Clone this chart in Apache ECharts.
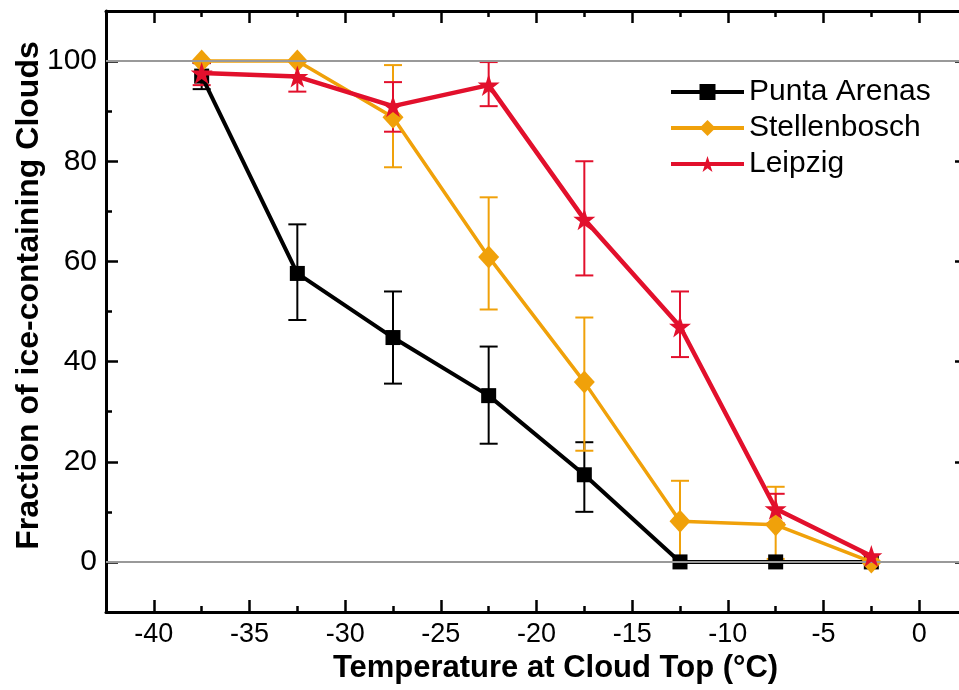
<!DOCTYPE html>
<html>
<head>
<meta charset="utf-8">
<script src="https://cdn.jsdelivr.net/npm/echarts@6/dist/echarts.min.js"></script>
<style>
  html, body { margin: 0; padding: 0; background: #fff; }
  #main { width: 959px; height: 690px; }
</style>
</head>
<body>
<div id="main"></div>
<script>
// temperature bins (cloud top, °C)
var temps = [-37.5, -32.5, -27.5, -22.5, -17.5, -12.5, -7.5, -2.5];

// fraction of ice-containing clouds (%), with error bar limits
var puntaVals = [97, 57.6, 44.8, 33.2, 17.4, 0, 0, 0];
var puntaLow  = [94.4, 48.3, 35.6, 23.6, 10, null, null, null];
var puntaHigh = [99.6, 67.4, 54, 43, 23.9, null, null, null];

var stellVals = [100, 100, 88.8, 60.9, 35.9, 8.1, 7.4, 0];
var stellLow  = [null, null, 78.8, 50.4, 22.2, 0, 0.6, null];
var stellHigh = [null, null, 99.2, 72.8, 48.8, 16.2, 15, null];

var leipVals = [97.6, 96.9, 91, 95.2, 68.4, 47, 10.6, 1.2];
var leipLow  = [95.2, 93.9, 85.9, 91, 57.2, 40.9, 7.7, null];
var leipHigh = [99.6, 100, 95.8, 99.8, 80, 54, 13.6, null];

var xMajor = [-40, -35, -30, -25, -20, -15, -10, -5, 0];
var xMinor = [-37.5, -32.5, -27.5, -22.5, -17.5, -12.5, -7.5, -2.5];
var yMajor = [0, 20, 40, 60, 80, 100];
var yMinor = [10, 30, 50, 70, 90];

var FONT = 'Liberation Sans, Arial, sans-serif';
var BLACK = '#000000', ORANGE = '#f0a10a', RED = '#e2102c';

function pts(vals) {
  return temps.map(function (t, i) { return [t, vals[i]]; });
}
function errs(low, high) {
  var out = [];
  temps.forEach(function (t, i) {
    if (low[i] != null) out.push([t, low[i], high[i]]);
  });
  return out;
}

function errSeries(name, color, data) {
  return {
    name: name,
    type: 'custom',
    data: data,
    z: 1,
    silent: true,
    renderItem: function (params, api) {
      var x = api.value(0);
      var pLo = api.coord([x, api.value(1)]);
      var pHi = api.coord([x, api.value(2)]);
      var w = 9;
      var st = { stroke: color, lineWidth: 2 };
      return {
        type: 'group',
        children: [
          { type: 'line', shape: { x1: pLo[0], y1: pLo[1], x2: pHi[0], y2: pHi[1] }, style: st },
          { type: 'line', shape: { x1: pLo[0] - w, y1: pLo[1], x2: pLo[0] + w, y2: pLo[1] }, style: st },
          { type: 'line', shape: { x1: pHi[0] - w, y1: pHi[1], x2: pHi[0] + w, y2: pHi[1] }, style: st }
        ]
      };
    }
  };
}

function xAx(pos, ticks, len, showLabel, showLine) {
  return {
    type: 'value', position: pos, min: -42.5, max: 2.5,
    axisLine: { show: showLine, onZero: false, lineStyle: { color: BLACK, width: 3 } },
    axisTick: { show: true, inside: true, length: len, customValues: ticks,
      lineStyle: { color: BLACK, width: 2.5 } },
    axisLabel: { show: showLabel, customValues: ticks, fontSize: 27, color: BLACK,
      fontFamily: FONT, margin: 9 },
    splitLine: { show: false }
  };
}
function yAx(pos, ticks, len, showLabel, showLine) {
  return {
    type: 'value', position: pos, min: -10, max: 110,
    axisLine: { show: showLine, onZero: false, lineStyle: { color: BLACK, width: 3 } },
    axisTick: { show: true, inside: true, length: len, customValues: ticks,
      lineStyle: { color: BLACK, width: 2.5 } },
    axisLabel: { show: showLabel, customValues: ticks, fontSize: 30, color: BLACK,
      fontFamily: FONT, margin: 9 },
    splitLine: { show: false }
  };
}

var chart = echarts.init(document.getElementById('main'));

var xMain = xAx('bottom', xMajor, 12, true, true);
xMain.name = 'Temperature at Cloud Top (°C)';
xMain.nameLocation = 'middle';
xMain.nameGap = 38;
xMain.nameTextStyle = { fontSize: 31, fontWeight: 'bold', color: BLACK, fontFamily: FONT,
  padding: [0, 0, 0, 38] };

var yMain = yAx('left', yMajor, 12, true, true);
yMain.name = 'Fraction of ice-containing Clouds';
yMain.nameLocation = 'middle';
yMain.nameGap = 61;
yMain.nameMoveOverlap = false;
yMain.nameTextStyle = { fontSize: 32, fontWeight: 'bold', color: BLACK, fontFamily: FONT,
  padding: [0, 0, 0, 32] };

var option = {
  animation: false,
  backgroundColor: '#fff',
  grid: { left: 106, width: 861, top: 11, height: 601, outerBoundsMode: 'none', containLabel: false },
  xAxis: [
    xMain,
    xAx('bottom', xMinor, 6, false, false),
    xAx('top', xMajor, 12, false, true),
    xAx('top', xMinor, 6, false, false)
  ],
  yAxis: [
    yMain,
    yAx('left', yMinor, 6, false, false),
    yAx('right', yMajor, 12, false, true),
    yAx('right', yMinor, 6, false, false)
  ],
  legend: {
    data: ['Punta Arenas', 'Stellenbosch', 'Leipzig'],
    orient: 'vertical',
    left: 664, top: 72,
    itemWidth: 73, itemHeight: 20, itemGap: 6,
    lineStyle: { width: 4 },
    textStyle: { fontSize: 30, color: BLACK, fontFamily: FONT }
  },
  series: [
    {
      name: 'ref', type: 'line', data: [], z: 0, silent: true,
      markLine: {
        silent: true, symbol: 'none', label: { show: false },
        lineStyle: { color: '#999', width: 2, type: 'solid' },
        data: [{ yAxis: 0 }, { yAxis: 100 }]
      }
    },
    errSeries('Punta err', BLACK, errs(puntaLow, puntaHigh)),
    errSeries('Stell err', ORANGE, errs(stellLow, stellHigh)),
    errSeries('Leipzig err', RED, errs(leipLow, leipHigh)),
    {
      name: 'Punta Arenas', type: 'line', data: pts(puntaVals), z: 3,
      symbol: 'rect', symbolSize: 15,
      lineStyle: { color: BLACK, width: 4 }, itemStyle: { color: BLACK }
    },
    {
      name: 'Stellenbosch', type: 'line', data: pts(stellVals), z: 4,
      symbol: 'diamond', symbolSize: [21, 23],
      lineStyle: { color: ORANGE, width: 3.5 }, itemStyle: { color: ORANGE }
    },
    {
      name: 'Leipzig', type: 'line', data: pts(leipVals), z: 5,
      symbol: 'path://M50,0 L61.8,35.1 L98.9,35.1 L68.9,57.3 L80.3,92.7 L50,70.9 L19.7,92.7 L31.1,57.3 L1.1,35.1 L38.2,35.1 Z',
      symbolSize: 22,
      lineStyle: { color: RED, width: 4.5 }, itemStyle: { color: RED }
    }
  ]
};

chart.setOption(option);
</script>
</body>
</html>
